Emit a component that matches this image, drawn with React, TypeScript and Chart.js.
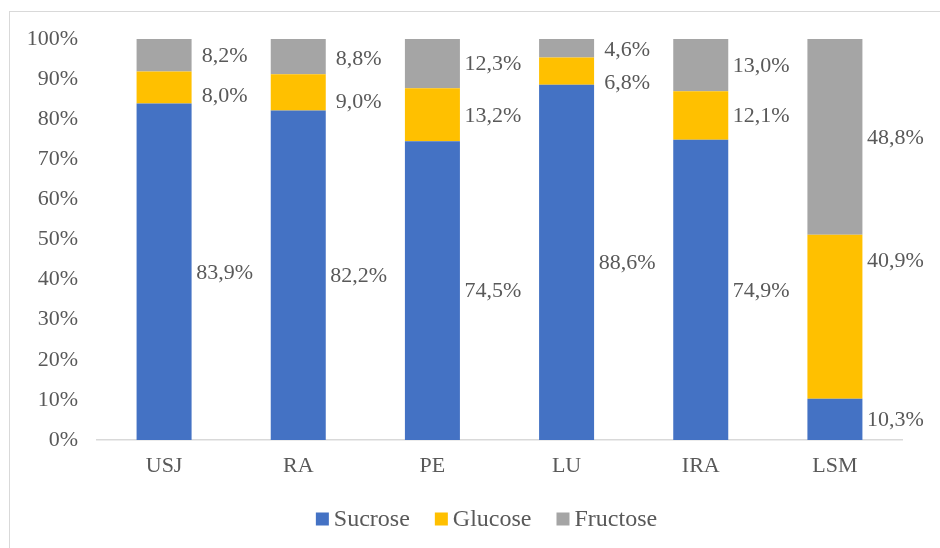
import React, { useEffect, useRef } from "react";
import { Chart, registerables } from "chart.js";

Chart.register(...registerables);

// Sugar composition per sample (% of total sugars)
const categories = ["USJ", "RA", "PE", "LU", "IRA", "LSM"];
const sucrose = [83.9, 82.2, 74.5, 88.6, 74.9, 10.3];
const glucose = [8.0, 9.0, 13.2, 6.8, 12.1, 40.9];
const fructose = [8.2, 8.8, 12.3, 4.6, 13.0, 48.8];
const seriesNames = ["Sucrose", "Glucose", "Fructose"];
const yTicks = [0, 10, 20, 30, 40, 50, 60, 70, 80, 90, 100];

const COLORS = ["#4472C4", "#FFC000", "#A5A5A5"];
const TEXT = "#595959";
const SERIF = "'Liberation Serif', 'Times New Roman', serif";

// Vertical shifts (px) for value labels that would otherwise crowd each other
const labelShift: number[][] = [
  [0, 0, 0, 0, 0, 0],
  [8, 9, 0, 11, 0, -56],
  [0, 2, 0, 1, 0, 0],
];

const fmt = (v: number) => v.toFixed(1).replace(".", ",") + "%";

const valueLabels = {
  id: "valueLabels",
  afterDatasetsDraw(chart: any) {
    const ctx = chart.ctx;
    ctx.save();
    ctx.font = `22px ${SERIF}`;
    ctx.fillStyle = TEXT;
    ctx.textAlign = "center";
    ctx.textBaseline = "middle";
    chart.data.datasets.forEach((ds: any, i: number) => {
      const meta = chart.getDatasetMeta(i);
      meta.data.forEach((bar: any, j: number) => {
        const right = bar.x + bar.width / 2;
        const cy = (bar.y + bar.base) / 2 + labelShift[i][j] + 1;
        ctx.fillText(fmt(ds.data[j]), right + 33, cy);
      });
    });
    ctx.restore();
  },
};

const bottomLegend = {
  id: "bottomLegend",
  afterDraw(chart: any) {
    const ctx = chart.ctx;
    ctx.save();
    ctx.font = `24px ${SERIF}`;
    ctx.textBaseline = "middle";
    ctx.textAlign = "left";
    const box = 13;
    const gapText = 5;
    const gapItem = 25;
    const items = chart.data.datasets.map((ds: any) => ({
      label: ds.label,
      color: ds.backgroundColor,
      w: ctx.measureText(ds.label).width,
    }));
    const total =
      items.reduce((s: number, it: any) => s + box + gapText + it.w, 0) +
      gapItem * (items.length - 1);
    let x = 486.5 - total / 2;
    const cy = 519;
    items.forEach((it: any) => {
      ctx.fillStyle = it.color;
      ctx.fillRect(x, cy - box / 2, box, box);
      x += box + gapText;
      ctx.fillStyle = TEXT;
      ctx.fillText(it.label, x, cy + 1);
      x += it.w + gapItem;
    });
    ctx.restore();
  },
};

export default function App() {
  const ref = useRef<HTMLCanvasElement | null>(null);

  useEffect(() => {
    if (!ref.current) return;
    const chart = new Chart(ref.current, {
      type: "bar",
      data: {
        labels: categories,
        datasets: [sucrose, glucose, fructose].map((d, i) => ({
          label: seriesNames[i],
          data: d,
          backgroundColor: COLORS[i],
          borderWidth: 0,
          barPercentage: 0.41,
          categoryPercentage: 1,
        })),
      },
      options: {
        responsive: false,
        animation: false,
        layout: { padding: { left: 0, top: 39, right: 38, bottom: 0 } },
        plugins: {
          legend: { display: false },
          tooltip: { enabled: false },
        },
        scales: {
          x: {
            stacked: true,
            grid: { display: false, drawTicks: false },
            border: { display: true, color: "#D9D9D9", width: 1.5 },
            ticks: {
              color: TEXT,
              font: { family: SERIF, size: 22 },
              padding: 13,
            },
            afterFit: (s: any) => {
              s.height = 108;
            },
          },
          y: {
            stacked: true,
            min: 0,
            max: 100,
            grid: { display: false, drawTicks: false },
            border: { display: false },
            afterBuildTicks: (s: any) => {
              s.ticks = yTicks.map((v) => ({ value: v }));
            },
            ticks: {
              color: TEXT,
              font: { family: SERIF, size: 22 },
              padding: 19,
              callback: (v: any) => `${v}%`,
            },
            afterFit: (s: any) => {
              s.width = 97;
            },
          },
        },
      },
      plugins: [valueLabels, bottomLegend],
    });
    return () => chart.destroy();
  }, []);

  return (
    <div
      style={{
        position: "fixed",
        left: 0,
        top: 0,
        width: 940,
        height: 548,
        overflow: "hidden",
        background: "#fff",
      }}
    >
      <div
        style={{
          position: "absolute",
          left: 9,
          top: 11,
          width: 1000,
          height: 1000,
          border: "1px solid #D9D9D9",
          boxSizing: "border-box",
        }}
      />
      <canvas
        ref={ref}
        width={940}
        height={548}
        style={{ position: "absolute", left: 0, top: 0, width: 940, height: 548 }}
      />
    </div>
  );
}
